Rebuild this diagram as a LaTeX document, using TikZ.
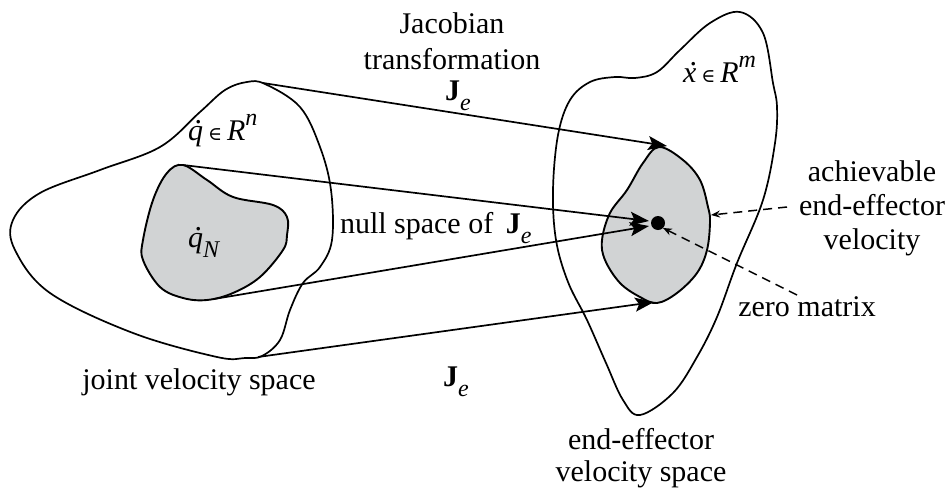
\documentclass[tikz,border=0pt]{standalone}
\usepackage{fontspec}
\setmainfont{Liberation Serif}
\newfontfamily\symfont{DejaVu Serif}
\usetikzlibrary{arrows.meta}
\definecolor{fillgray}{RGB}{209,211,212}
\newcommand{\mysub}[1]{\raisebox{-0.36em}{\fontsize{24}{24}\selectfont\itshape #1}}
\newcommand{\mysup}[1]{\raisebox{0.5em}{\fontsize{24}{24}\selectfont\itshape #1}}
\newcommand{\myelem}{\,{\fontsize{19}{19}\selectfont\symfont ∈}\,}
\newcommand{\mydot}[1]{\makebox[0pt][l]{\hspace{0.22em}\raisebox{0.56em}{.}}\textit{#1}}
\begin{document}
\begin{tikzpicture}[x=1pt,y=-1pt,
  every node/.style={font=\fontsize{30}{35}\selectfont, inner sep=0pt, outer sep=0pt},
  blob/.style={draw=black, line width=1.7pt},
  gblob/.style={draw=black, fill=fillgray, line width=1.9pt},
  mapar/.style={draw=black, line width=1.7pt, -{Stealth[length=19pt,width=14pt,inset=4pt]}},
  pointer/.style={draw=black, line width=1.5pt, dash pattern=on 9pt off 6pt, -{Stealth[length=9pt,width=7pt]}}]
\useasboundingbox (0,0) rectangle (947,490);
% left outer blob
\draw[blob] plot[smooth cycle, tension=0.6] coordinates {(247,82) (265,84) (300,107) (320,147) (331,190) (332,240) (320,267) (303,283) (290,310) (280,340) (262,356) (245,358) (217,357) (133,333) (50,293) (15,250) (13,220) (40,193) (100,170) (160,147) (200,112) (225,90)};
% left gray blob
\draw[gblob] plot[smooth cycle, tension=0.6] coordinates {(183,165) (207,180) (233,197) (273,205) (287,217) (287,235) (283,250) (260,277) (233,293) (207,300) (183,298) (160,287) (143,260) (143,240) (153,200) (167,173)};
% right outer blob
\draw[blob] plot[smooth cycle, tension=0.6] coordinates {(777,107) (775,143) (763,200) (737,263) (717,317) (697,357) (673,393) (640,415) (623,400) (606,363) (587,320) (568,282) (556,240) (553,190) (558,135) (570,100) (590,82) (615,77) (635,78) (657,72) (680,50) (710,23) (740,12) (763,33) (773,83)};
% right gray blob
\draw[gblob] plot[smooth cycle, tension=0.6] coordinates {(659,147) (683,160) (700,180) (708,207) (710,222) (707,250) (697,273) (677,293) (657,303) (640,297) (620,283) (605,260) (602,240) (610,213) (627,190) (643,163)};
% named points
\coordinate (ltop) at (263,83);
\coordinate (lbot) at (258,357);
\coordinate (gtop) at (183,165);
\coordinate (gbot) at (214,299);
\coordinate (rtop) at (667,146);
\coordinate (rbot) at (654,302);
\coordinate (dA) at (649,221);
\coordinate (dB) at (649,226);
\node[circle, fill=black, minimum size=14pt] (zero) at (658,223) {};
\coordinate (achtip) at (711,215);
\coordinate (achtail) at (787,207);
\coordinate (zerotail) at (797,295);
% mapping arrows
\draw[mapar] (ltop) -- (rtop);
\draw[mapar] (gtop) -- (dA);
\draw[mapar] (gbot) -- (dB);
\draw[mapar] (lbot) -- (rbot);
% pointers
\draw[pointer] (achtail) -- (achtip);
\draw[pointer] (zerotail) -- (zero.south east);
% labels
\node[anchor=base] (jac) at (452,33) {Jacobian};
\node[anchor=base] (trf) at (452,69) {transformation};
\node[anchor=base west] (jtop) at (445,100) {\textbf{J}\mysub{e}};
\node[anchor=base west] (null) at (340,233) {null space of \,\textbf{J}\mysub{e}};
\node[anchor=base west] (jbot) at (443,386) {\textbf{J}\mysub{e}};
\node[anchor=base] (jvs) at (199,389) {joint velocity space};
\node[anchor=base] (ees1) at (641,449) {end-effector};
\node[anchor=base] (ees2) at (641,481) {velocity space};
\node[anchor=base] (ach1) at (872,181) {achievable};
\node[anchor=base] (ach2) at (872,215) {end-effector};
\node[anchor=base] (ach3) at (872,249) {velocity};
\node[anchor=base] (zm) at (807,316) {zero matrix};
\node[anchor=base west] (qn) at (188,140) {\mydot{q}\myelem\textit{R}\mysup{n}};
\node[anchor=base west] (xm) at (683,82) {\mydot{x}\myelem\textit{R}\mysup{m}};
\node[anchor=base west] (qN) at (188,247) {\mydot{q}\mysub{N}};
\end{tikzpicture}
\end{document}
